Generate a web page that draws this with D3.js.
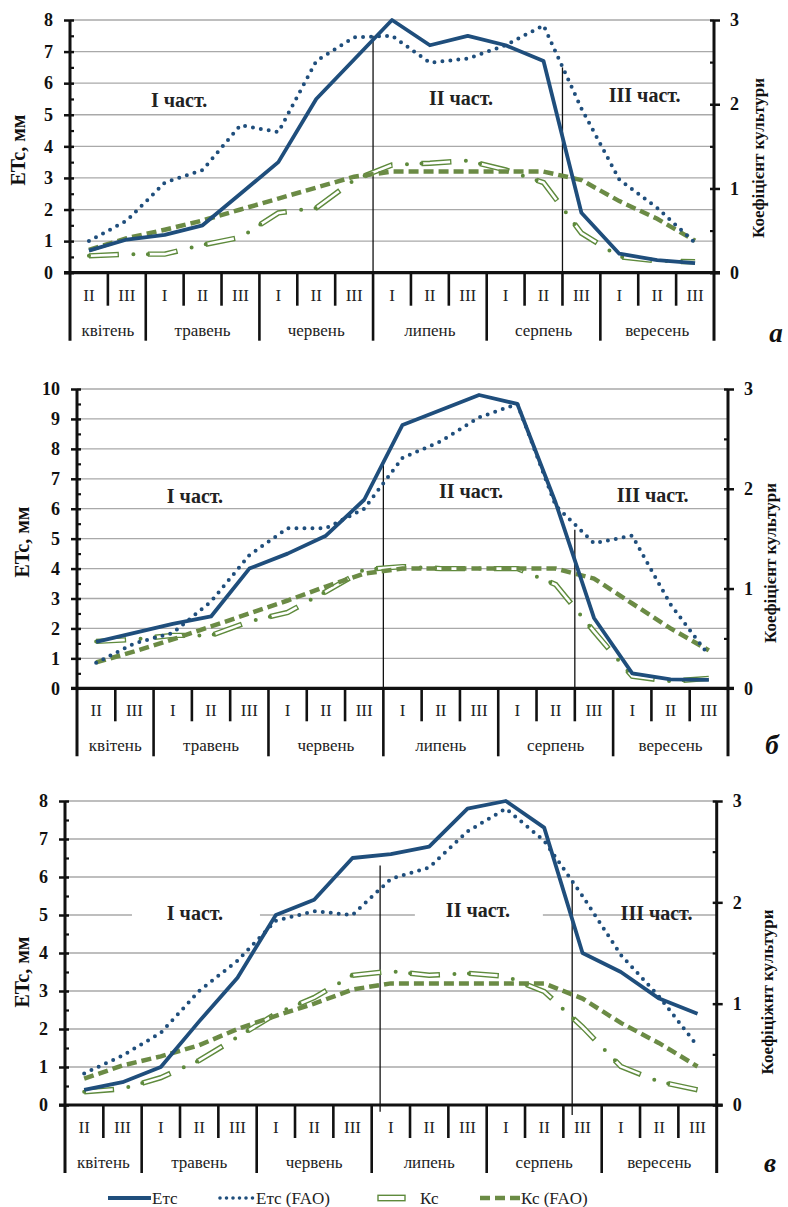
<!DOCTYPE html>
<html>
<head>
<meta charset="utf-8">
<script src="https://cdn.jsdelivr.net/npm/d3@7"></script>
<style>
  html, body { margin: 0; padding: 0; background: #fff; }
  svg { display: block; }
  svg text { font-family: "Liberation Serif", "Times New Roman", Times, "DejaVu Serif", serif; }
</style>
</head>
<body>
<svg id="chart" width="788" height="1207" font-family="Liberation Serif, DejaVu Serif, serif"></svg>
<script>
// Ten-day periods (decades) of the growing season, April II – September III
const decadeLabels = ["II","III","I","II","III","I","II","III","I","II","III","I","II","III","I","II","III"];
const monthNames = ["квітень","травень","червень","липень","серпень","вересень"];
const monthDecades = [2, 3, 3, 3, 3, 3];
const phaseNames = ["I част.", "II част.", "III част."];

// Panel а — ETc (mm) and crop coefficient Kc
const etcA    = [0.7, 1.05, 1.2, 1.5, 2.5, 3.5, 5.5, 6.75, 8.0, 7.2, 7.5, 7.2, 6.7, 1.9, 0.6, 0.4, 0.3];
const etcFaoA = [1.0, 1.65, 2.85, 3.25, 4.67, 4.45, 6.7, 7.45, 7.5, 6.65, 6.78, 7.2, 7.83, 5.2, 2.95, 2.05, 0.95];
const kcA     = [0.2, 0.22, 0.22, 0.33, 0.42, 0.71, 0.77, 1.1, 1.28, 1.3, 1.33, 1.22, 1.07, 0.47, 0.19, 0.14, 0.13];
const kcFaoA  = [0.27, 0.41, 0.51, 0.62, 0.75, 0.88, 1.01, 1.14, 1.2, 1.2, 1.2, 1.2, 1.2, 1.1, 0.85, 0.64, 0.38];
const phaseAtA = [8, 13];
const phaseTopA = [7.5, 6.5];
const phaseBottomA = [0, 0];

// Panel б
const etcB    = [1.55, 1.85, 2.15, 2.4, 4.0, 4.5, 5.1, 6.3, 8.8, 9.3, 9.8, 9.5, 6.2, 2.35, 0.5, 0.3, 0.28];
const etcFaoB = [0.85, 1.5, 1.85, 2.9, 4.45, 5.35, 5.35, 6.0, 7.7, 8.25, 9.05, 9.5, 6.1, 4.85, 5.1, 2.8, 1.1];
const kcB     = [0.47, 0.49, 0.53, 0.53, 0.67, 0.76, 0.97, 1.19, 1.22, 1.2, 1.2, 1.2, 1.04, 0.57, 0.12, 0.07, 0.1];
const kcFaoB  = [0.26, 0.37, 0.49, 0.62, 0.75, 0.88, 1.02, 1.15, 1.2, 1.2, 1.2, 1.2, 1.2, 1.1, 0.85, 0.6, 0.38];
const phaseAtB = [8, 13];
const phaseTopB = [7.6, 5.3];
const phaseBottomB = [0, 0];

// Panel в
const etcC    = [0.4, 0.6, 1.0, 2.2, 3.35, 5.0, 5.4, 6.5, 6.6, 6.8, 7.8, 8.0, 7.3, 4.0, 3.5, 2.8, 2.4];
const etcFaoC = [0.83, 1.3, 1.9, 3.0, 3.8, 4.85, 5.1, 5.0, 5.95, 6.25, 7.2, 7.8, 6.95, 5.5, 3.95, 2.85, 1.55];
const kcC     = [0.13, 0.16, 0.27, 0.44, 0.67, 0.9, 1.06, 1.28, 1.32, 1.28, 1.3, 1.27, 1.12, 0.77, 0.38, 0.23, 0.15];
const kcFaoC  = [0.26, 0.39, 0.48, 0.59, 0.75, 0.88, 1.0, 1.14, 1.2, 1.2, 1.2, 1.2, 1.2, 1.05, 0.81, 0.61, 0.38];
const phaseAtC = [8.22, 13.23];
const phaseTopC = [6.3, 5.9];
const phaseBottomC = [-0.18, -0.26];

const legendLabels = ["Етс", "Етс (FAO)", "Кс", "Кс (FAO)"];

const SERIF = "Liberation Serif, Times New Roman, Times, DejaVu Serif, serif";
const NAVY = "#1f4e7c";
const OLIVE = "#6b8b45";
const KC_GREEN = "#5e8a3c";
const GRID = "#a9a9a9";

const svg = d3.select("#chart");

const panels = [
  { letter: "а", etc: etcA, etcFao: etcFaoA, kc: kcA, kcFao: kcFaoA, yMax: 8,
    phaseAt: phaseAtA, phaseTop: phaseTopA, phaseBottom: phaseBottomA,
    box: { left: 70, right: 714, top: 20, bottom: 272.7 },
    yTitle: [18, 150], kTitle: [758, 158], letterPos: [776, 333],
    phaseLabelPos: [[2.88, 5.24], [10.32, 5.31], [15.17, 5.41]], masked: false,
    kTitleText: "Коефіцієнт культури" },
  { letter: "б", etc: etcB, etcFao: etcFaoB, kc: kcB, kcFao: kcFaoB, yMax: 10,
    phaseAt: phaseAtB, phaseTop: phaseTopB, phaseBottom: phaseBottomB,
    box: { left: 77, right: 728, top: 389, bottom: 688.3 },
    yTitle: [22, 542], kTitle: [770, 563], letterPos: [772, 745],
    phaseLabelPos: [[3.08, 6.2], [10.29, 6.37], [15.03, 6.23]], masked: false,
    kTitleText: "Коефіцієнт культури" },
  { letter: "в", etc: etcC, etcFao: etcFaoC, kc: kcC, kcFao: kcFaoC, yMax: 8,
    phaseAt: phaseAtC, phaseTop: phaseTopC, phaseBottom: phaseBottomC,
    box: { left: 65, right: 716.7, top: 801, bottom: 1105 },
    yTitle: [22, 972], kTitle: [767, 992], letterPos: [770, 1163],
    phaseLabelPos: [[3.39, 4.87], [10.77, 4.96], [15.43, 4.87]], masked: true,
    kTitleText: "Коефіціжнт культури" }
];

// Kc drawn as an outlined (double) dash with a dot between dashes
function kcStroke(g, d, withDots) {
  g.append("path").attr("d", d).attr("fill", "none")
    .attr("stroke", KC_GREEN).attr("stroke-width", 5.4)
    .attr("stroke-dasharray", withDots ? "30 29" : null);
  g.append("path").attr("d", d).attr("fill", "none")
    .attr("stroke", "#fff").attr("stroke-width", 2.6)
    .attr("stroke-dasharray", withDots ? "0 1.3 27.4 30.3" : null);
  if (withDots) {
    g.append("path").attr("d", d).attr("fill", "none")
      .attr("stroke", KC_GREEN).attr("stroke-width", 4)
      .attr("stroke-linecap", "round")
      .attr("stroke-dasharray", "0 44.5 0 14.5");
  }
}

function styleTickText(sel) {
  sel.attr("font-family", SERIF).attr("font-size", 18)
    .attr("font-weight", "bold").attr("fill", "#111");
}

function drawPanel(p) {
  const g = svg.append("g");
  const { left, right, top, bottom } = p.box;
  const n = decadeLabels.length;
  const x = d3.scaleBand().domain(d3.range(n)).range([left, right]).padding(0);
  const xc = i => x(i) + x.bandwidth() / 2;
  const xu = d3.scaleLinear().domain([0, n]).range([left, right]);
  const y = d3.scaleLinear().domain([0, p.yMax]).range([bottom, top]);
  const yk = d3.scaleLinear().domain([0, 3]).range([bottom, top]);
  const lineBottom = bottom + 68;

  // horizontal gridlines
  g.append("g").selectAll("line").data(d3.range(1, p.yMax + 1)).join("line")
    .attr("x1", left).attr("x2", right)
    .attr("y1", d => y(d)).attr("y2", d => y(d))
    .attr("stroke", GRID).attr("stroke-width", 1.3);

  // growth-phase labels
  const pl = g.append("g");
  p.phaseLabelPos.forEach((pos, i) => {
    const cx = xu(pos[0]), by = y(pos[1]);
    if (p.masked && i < 2) {
      pl.append("rect").attr("x", cx - 63).attr("y", by - 20)
        .attr("width", 128).attr("height", 24).attr("fill", "#fff");
    }
    pl.append("text").attr("x", cx).attr("y", by)
      .attr("font-family", SERIF)
      .attr("text-anchor", "middle").attr("font-size", 20).attr("font-weight", "bold")
      .attr("fill", "#222").text(phaseNames[i]);
  });

  // phase boundaries
  g.append("g").selectAll("line").data(p.phaseAt).join("line")
    .attr("x1", d => xu(d)).attr("x2", d => xu(d))
    .attr("y1", (d, i) => y(p.phaseTop[i])).attr("y2", (d, i) => y(p.phaseBottom[i]))
    .attr("stroke", "#111").attr("stroke-width", 1.3);

  // series
  const lineL = d3.line().x((d, i) => xc(i)).y(d => y(d));
  const lineK = d3.line().x((d, i) => xc(i)).y(d => yk(d));
  kcStroke(g.append("g"), lineK(p.kc), true);
  g.append("path").attr("d", lineK(p.kcFao)).attr("fill", "none")
    .attr("stroke", OLIVE).attr("stroke-width", 4.5)
    .attr("stroke-dasharray", "10 5");
  g.append("path").attr("d", lineL(p.etcFao)).attr("fill", "none")
    .attr("stroke", NAVY).attr("stroke-width", 4).attr("stroke-linecap", "round")
    .attr("stroke-dasharray", "0 8");
  g.append("path").attr("d", lineL(p.etc)).attr("fill", "none")
    .attr("stroke", NAVY).attr("stroke-width", 3.8).attr("stroke-linejoin", "round");

  // left axis
  const la = g.append("g").attr("transform", `translate(${left},0)`)
    .call(d3.axisLeft(y).tickValues(d3.range(0, p.yMax + 1)).tickFormat(d3.format("d"))
      .tickSize(6).tickPadding(11));
  la.attr("font-family", SERIF);
  la.select(".domain").remove();
  la.selectAll(".tick line").attr("x1", 4).attr("stroke", "#111").attr("stroke-width", 2.5);
  styleTickText(la.selectAll(".tick text"));
  const lm = g.append("g").attr("transform", `translate(${left},0)`)
    .call(d3.axisLeft(y).tickValues(d3.range(0.5, p.yMax, 1)).tickSize(-4).tickFormat(""));
  lm.select(".domain").remove();
  lm.selectAll(".tick line").attr("stroke", "#111").attr("stroke-width", 2.2);

  // right axis (crop coefficient)
  const ra = g.append("g").attr("transform", `translate(${right},0)`)
    .call(d3.axisRight(yk).tickValues([0, 1, 2, 3]).tickFormat(d3.format("d"))
      .tickSize(6).tickPadding(10));
  ra.attr("font-family", SERIF);
  ra.select(".domain").remove();
  ra.selectAll(".tick line").attr("x1", -4).attr("stroke", "#111").attr("stroke-width", 2.5);
  styleTickText(ra.selectAll(".tick text"));
  const rm = g.append("g").attr("transform", `translate(${right},0)`)
    .call(d3.axisRight(yk).tickValues([0.5, 1.5, 2.5]).tickSize(-4).tickFormat(""));
  rm.select(".domain").remove();
  rm.selectAll(".tick line").attr("stroke", "#111").attr("stroke-width", 2.2);

  // axis lines
  g.append("line").attr("x1", left).attr("x2", left).attr("y1", top).attr("y2", lineBottom)
    .attr("stroke", "#111").attr("stroke-width", 3);
  g.append("line").attr("x1", right).attr("x2", right).attr("y1", top).attr("y2", lineBottom)
    .attr("stroke", "#111").attr("stroke-width", 3);
  g.append("line").attr("x1", left - 6).attr("x2", right + 6).attr("y1", bottom).attr("y2", bottom)
    .attr("stroke", "#111").attr("stroke-width", 3.2);

  // category separators: decade ticks short, month boundaries full height
  const monthStarts = [0];
  monthDecades.forEach(c => monthStarts.push(monthStarts[monthStarts.length - 1] + c));
  const bounds = d3.range(1, n);
  g.append("g").selectAll("line").data(bounds).join("line")
    .attr("x1", d => xu(d)).attr("x2", d => xu(d))
    .attr("y1", bottom)
    .attr("y2", d => monthStarts.includes(d) ? lineBottom : bottom + 33)
    .attr("stroke", "#111").attr("stroke-width", 2.6);

  // decade labels
  g.append("g").selectAll("text").data(decadeLabels).join("text")
    .attr("x", (d, i) => xc(i)).attr("y", bottom + 22.5)
    .attr("font-family", SERIF)
    .attr("text-anchor", "middle").attr("dominant-baseline", "central")
    .attr("font-size", 17).attr("fill", "#222").text(d => d);

  // month labels
  g.append("g").selectAll("text").data(monthNames).join("text")
    .attr("x", (d, i) => (xu(monthStarts[i]) + xu(monthStarts[i + 1])) / 2)
    .attr("y", bottom + 57.5)
    .attr("font-family", SERIF)
    .attr("text-anchor", "middle").attr("dominant-baseline", "central")
    .attr("font-size", 17).attr("fill", "#222").text(d => d);

  // axis titles
  g.append("text").attr("transform", `translate(${p.yTitle[0]},${p.yTitle[1]}) rotate(-90)`)
    .attr("font-family", SERIF)
    .attr("text-anchor", "middle").attr("dominant-baseline", "central")
    .attr("font-size", 20).attr("font-weight", "bold").attr("fill", "#111").text("ETc, мм");
  g.append("text").attr("transform", `translate(${p.kTitle[0]},${p.kTitle[1]}) rotate(-90)`)
    .attr("font-family", SERIF)
    .attr("text-anchor", "middle").attr("dominant-baseline", "central")
    .attr("font-size", 17).attr("font-weight", "bold").attr("fill", "#111").text(p.kTitleText);

  // panel letter
  g.append("text").attr("x", p.letterPos[0]).attr("y", p.letterPos[1])
    .attr("font-family", SERIF)
    .attr("text-anchor", "middle").attr("dominant-baseline", "central")
    .attr("font-size", 27).attr("font-weight", "bold").attr("font-style", "italic")
    .attr("fill", "#111").text(p.letter);
}

panels.forEach(drawPanel);

// legend
const lg = svg.append("g").attr("transform", "translate(0,1198)");
const ly = 0;
lg.append("line").attr("x1", 108).attr("x2", 151).attr("y1", ly).attr("y2", ly)
  .attr("stroke", NAVY).attr("stroke-width", 4);
lg.append("line").attr("x1", 220).attr("x2", 253).attr("y1", ly).attr("y2", ly)
  .attr("stroke", NAVY).attr("stroke-width", 3.6).attr("stroke-linecap", "round")
  .attr("stroke-dasharray", "0 6.5");
lg.append("rect").attr("x", 378).attr("y", ly - 2.7).attr("width", 27).attr("height", 5.4)
  .attr("fill", "#fff").attr("stroke", KC_GREEN).attr("stroke-width", 1.4);
lg.append("line").attr("x1", 480).attr("x2", 520).attr("y1", ly).attr("y2", ly)
  .attr("stroke", OLIVE).attr("stroke-width", 4.5).attr("stroke-dasharray", "10 5");
const legendX = [152, 256, 420, 521];
lg.selectAll("text").data(legendLabels).join("text")
  .attr("x", (d, i) => legendX[i]).attr("y", ly)
  .attr("font-family", SERIF)
  .attr("dominant-baseline", "central").attr("font-size", 17).attr("fill", "#222")
  .text(d => d);
</script>
</body>
</html>
